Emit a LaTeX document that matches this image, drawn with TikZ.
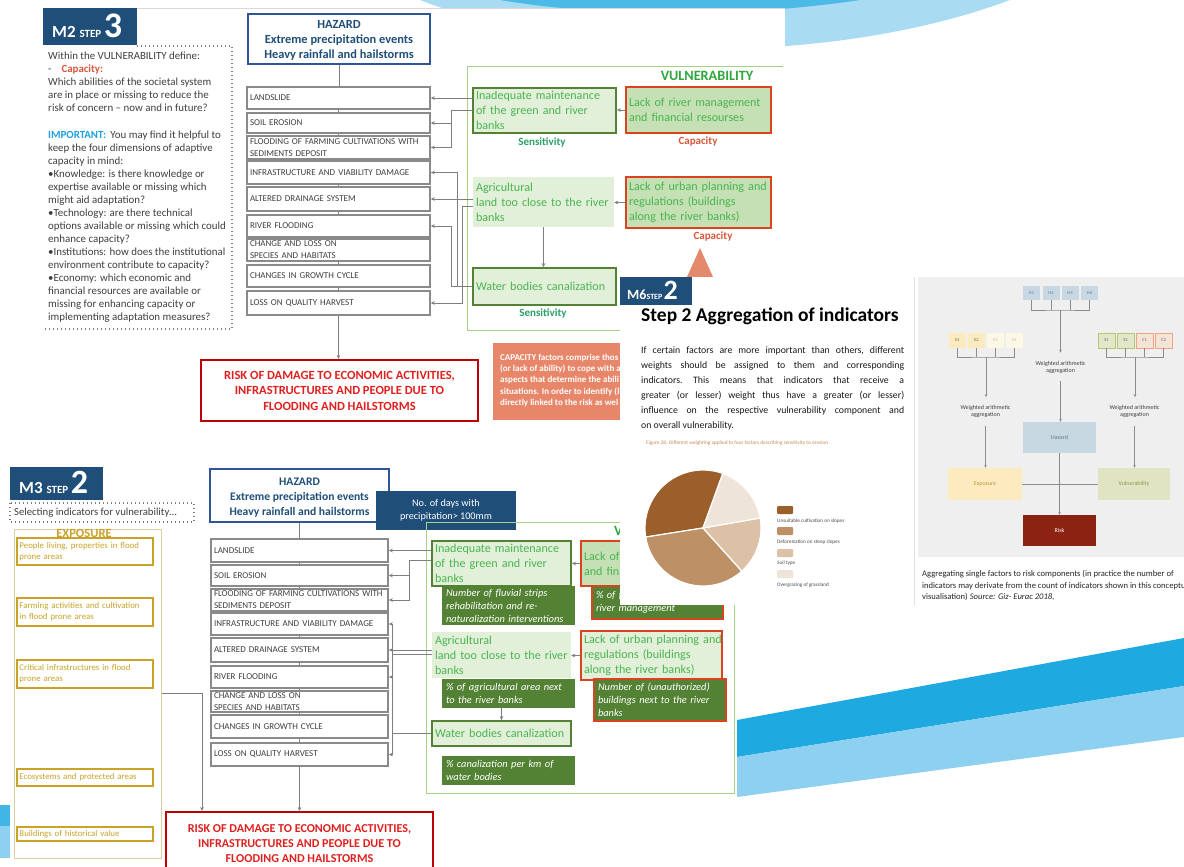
\documentclass[tikz,border=0pt]{standalone}
\usepackage{fontspec}
\setmainfont{Carlito}
\usetikzlibrary{arrows.meta,calc}
\definecolor{navy}{HTML}{1F4E79}
\definecolor{hazblue}{HTML}{2F5597}
\definecolor{boxgray}{HTML}{8A8A8A}
\definecolor{txtgray}{HTML}{3F3F3F}
\definecolor{arrgray}{HTML}{7F7F7F}
\definecolor{gtext}{HTML}{4AB452}
\definecolor{vgreen}{HTML}{2EA83C}
\definecolor{sgreen}{HTML}{2A9F66}
\definecolor{dgreen}{HTML}{548235}
\definecolor{lfill}{HTML}{E2F0D9}
\definecolor{cfill}{HTML}{C5E0B4}
\definecolor{capred}{HTML}{D9441F}
\definecolor{capt}{HTML}{D9563A}
\definecolor{contg}{HTML}{A9D18E}
\definecolor{riskred}{HTML}{C00000}
\definecolor{risktxt}{HTML}{E0201E}
\definecolor{salmon}{HTML}{E8866A}
\definecolor{tri}{HTML}{E38A6D}
\definecolor{gold}{HTML}{C9A227}
\definecolor{goldline}{HTML}{DCCDA5}
\definecolor{impblue}{HTML}{1DA1E2}
\definecolor{skyd}{HTML}{1FA9E1}
\definecolor{skyl}{HTML}{A9DBF3}
\definecolor{skym}{HTML}{8DD0F0}
\definecolor{panelg}{HTML}{EFEFEF}
\definecolor{hbox}{HTML}{C8D8E2}
\definecolor{hboxt}{HTML}{5A7A90}
\definecolor{ebox}{HTML}{FBEBBE}
\definecolor{eboxf}{HTML}{FDF7E6}
\definecolor{vbox}{HTML}{E1E4C3}
\definecolor{sbord}{HTML}{B4C878}
\definecolor{cbord}{HTML}{EFA585}
\definecolor{cfill2}{HTML}{F3E4D6}
\definecolor{sfill}{HTML}{E3E7C8}
\definecolor{riskd}{HTML}{8B2212}
\definecolor{pie1}{HTML}{9C5E2B}
\definecolor{pie2}{HTML}{BD9065}
\definecolor{pie3}{HTML}{DCC1A7}
\definecolor{pie4}{HTML}{EEE4D9}
\definecolor{figcap}{HTML}{C58A55}
\definecolor{pline}{HTML}{8C8C8C}
\definecolor{expt}{HTML}{B89A3A}
\definecolor{vult}{HTML}{8A9A4A}
\newcommand{\fsz}[2]{\fontsize{#1}{#2}\selectfont}
\tikzset{
 lbox/.style={draw=boxgray, line width=1.6pt, fill=white, inner xsep=3pt, inner ysep=0pt, align=left, text=txtgray, font=\fsz{9}{12}},
 hazbox/.style={draw=hazblue, line width=2pt, fill=white, text=navy, align=center, inner sep=0pt, font=\bfseries\fsz{12.4}{15}},
 sensbox/.style={draw=dgreen, line width=1.8pt, fill=lfill, text=gtext, align=left, inner xsep=3pt, inner ysep=0pt, font=\fsz{12.1}{15}},
 capbox/.style={draw=capred, line width=1.6pt, fill=cfill, text=gtext, align=left, inner xsep=3pt, inner ysep=0pt, font=\fsz{12.1}{15}},
 agribox/.style={fill=lfill, text=gtext, align=left, inner xsep=3pt, inner ysep=0pt, font=\fsz{12.1}{15}},
 indbox/.style={fill=dgreen, text=white, align=left, inner xsep=4pt, inner ysep=0pt, font=\itshape\fsz{10.4}{13}},
 lab/.style={inner sep=0pt, font=\bfseries\fsz{11}{12}},
 riskbox/.style={draw=riskred, line width=2pt, fill=white, text=risktxt, align=center, inner sep=0pt, font=\bfseries\fsz{12.5}{15.5}},
 expbox/.style={draw=gold, line width=1.6pt, fill=white, text=gold, align=left, inner xsep=2.5pt, inner ysep=0pt, font=\fsz{8.8}{11}},
 arr/.style={draw=arrgray, line width=0.9pt, -{Stealth[length=4pt,width=3.6pt]}},
 conn/.style={draw=arrgray, line width=0.9pt},
 dotline/.style={draw=gray, line width=1.5pt, dash pattern=on 1.4pt off 2.6pt},
 pbox/.style={inner sep=0pt, minimum width=17, minimum height=15, font=\fsz{4.5}{5}},
 wt/.style={inner xsep=0pt, inner ysep=8pt, align=center, font=\fsz{6}{7}, text=black!75},
 parr/.style={draw=pline, line width=0.6pt, -{Stealth[length=3pt,width=2.6pt]}},
 pcon/.style={draw=pline, line width=0.6pt},
 leg/.style={minimum width=16, minimum height=8, rounded corners=1pt, inner sep=0pt},
 legt/.style={anchor=west, inner sep=0pt, font=\fsz{5.2}{6}, text=black!70},
}
\begin{document}
\begin{tikzpicture}[x=1pt,y=-1pt]
\useasboundingbox (0,0) rectangle (1184,867);
\fill[white] (0,0) rectangle (1184,867);
% ---- background swooshes
\fill[skyl] (420,0) .. controls (600,70) and (850,60) .. (1010,0) -- cycle;
\fill[skyd!80] (500,0) .. controls (620,20) and (760,15) .. (860,0) -- cycle;
\fill[skyd] (737,720) -- (1184,638) -- (1184,686) -- (737,757) -- cycle;
\fill[skym] (737,757) -- (1184,686) -- (1184,737) -- (737,797) -- cycle;
\fill[skyd!85] (0,805) rectangle (12,826);
\fill[skym] (0,826) rectangle (12,858);

% ================= TOP SLIDE =================
\fill[white] (40,8) rectangle (785,455);
\draw[black!15, line width=0.6pt] (137,8) -- (785,8);
\fill[navy] (43,8) rectangle (137,45);
\node[anchor=base west, inner sep=0pt, text=white, font=\bfseries] (m2ban) at (52,38) {\fsz{17}{17}M2 \fsz{11}{11}STEP \fsz{36}{36}3};
\draw[dotline] (137,46) -- (232,46) -- (232,329) -- (43,329);
\node[anchor=north west, inner sep=0pt, align=left, text=txtgray, font=\fsz{10.9}{13.05}] (m2txt) at (48,52) {Within the VULNERABILITY define:\\
-\hspace{10pt}{\color{capt}\bfseries Capacity:}\\
Which abilities of the societal system\\
are in place or missing to reduce the\\
risk of concern – now and in future?\\[13.05pt]
{\color{impblue}\bfseries IMPORTANT:}\, You may find it helpful to\\
keep the four dimensions of adaptive\\
capacity in mind:\\
•Knowledge: is there knowledge or\\
expertise available or missing which\\
might aid adaptation?\\
•Technology: are there technical\\
options available or missing which could\\
enhance capacity?\\
•Institutions: how does the institutional\\
environment contribute to capacity?\\
•Economy: which economic and\\
financial resources are available or\\
missing for enhancing capacity or\\
implementing adaptation measures?};

\node[hazbox, minimum width=182, minimum height=50] (thaz) at (339,39) {\rule{0pt}{11pt}HAZARD\\Extreme precipitation events\\Heavy rainfall and hailstorms};
\begin{scope}[every node/.style={lbox, minimum width=183, text width=177}]
\node[minimum height=22] (t1) at (338.5,98) {LANDSLIDE};
\node[minimum height=20] (t2) at (338.5,123) {SOIL EROSION};
\node[minimum height=23] (t3) at (338.5,147.5) {FLOODING OF FARMING CULTIVATIONS WITH\\SEDIMENTS DEPOSIT};
\node[minimum height=23] (t4) at (338.5,172.5) {INFRASTRUCTURE AND VIABILITY DAMAGE};
\node[minimum height=24] (t5) at (338.5,199) {ALTERED DRAINAGE SYSTEM};
\node[minimum height=22] (t6) at (338.5,226) {RIVER FLOODING};
\node[minimum height=22] (t7) at (338.5,250) {CHANGE AND LOSS ON\\SPECIES AND HABITATS};
\node[minimum height=22] (t8) at (338.5,276) {CHANGES IN GROWTH CYCLE};
\node[minimum height=24] (t9) at (338.5,303) {LOSS ON QUALITY HARVEST};
\end{scope}
\draw[conn] (thaz.south) -- (thaz.south |- t1.north);
\foreach \a/\b in {t1/t2,t2/t3,t3/t4,t4/t5,t5/t6,t6/t7,t7/t8,t8/t9} \draw[conn] (\a.south) -- (\b.north);

% vulnerability container (top)
\draw[contg, line width=1pt] (783,67) -- (467,67) -- (467,330) -- (640,330);
\node[anchor=base, inner sep=0pt, text=vgreen, font=\bfseries\fsz{14.2}{15}] (tvul) at (707,81) {VULNERABILITY};
\node[sensbox, minimum width=143, text width=137, minimum height=45] (inad) at (544.5,110.5) {Inadequate maintenance\\of the green and river\\banks};
\node[capbox, minimum width=145, text width=139, minimum height=46] (lackr) at (698.5,110) {\mbox{Lack of river management}\\and financial resourses};
\node[agribox, minimum width=141, text width=135, minimum height=50] (agri) at (543.5,202) {Agricultural\\\mbox{land too close to the river}\\banks};
\node[capbox, minimum width=145, text width=139, minimum height=51] (lacku) at (698.5,202.5) {\mbox{Lack of urban planning and}\\regulations (buildings\\along the river banks)};
\node[sensbox, minimum width=143, text width=137, minimum height=37] (water) at (544.5,286.5) {\mbox{Water bodies canalization}};
\node[lab, text=sgreen] (sl1) at (542,142) {Sensitivity};
\node[lab, text=capt] (cl1) at (698,142) {Capacity};
\node[lab, text=capt] (cl2) at (713,237) {Capacity};
\node[lab, text=sgreen] (sl2) at (543,313) {Sensitivity};
\draw[arr] (lackr.west) -- (lackr.west -| inad.east);
\draw[arr] (lacku.west) -- (lacku.west -| agri.east);
\draw[arr] (agri.south) -- (agri.south |- water.north);
% connectors to effects
\coordinate (j1) at (451,0);
\coordinate (j2) at (462,0);
\coordinate (j3) at (457,0);
\draw[arr] (inad.west |- t1.east) -- (t1.east);
\draw[arr] (inad.west) -- (inad.west -| j1) |- (t3.east);
\draw[arr] (t2.east -| j1) -- (t2.east);
\draw[arr] (agri.west |- t5.east) -- (t5.east);
\coordinate (a2) at ($(agri.west)+(0,4)$);
\draw[arr] (a2) -- (a2 -| j2) |- (t9.east);
\draw[arr] (water.west) -- (water.west -| j3) |- (t4.east);
\draw[arr] (water.west -| j3) -- (water.west -| j1) |- (t6.east);

% risk (top)
\node[riskbox, minimum width=277, minimum height=61] (trisk) at (339.5,390.5) {RISK OF DAMAGE TO ECONOMIC ACTIVITIES,\\INFRASTRUCTURES AND PEOPLE DUE TO\\FLOODING AND HAILSTORMS};
\draw[arr] (t9.south) -- (t9.south |- trisk.north);

% salmon note
\begin{scope}
\clip (493,343) rectangle (620,420);
\fill[salmon] (493,343) rectangle (620,420);
\node[anchor=north west, inner sep=0pt, align=left, text=white, font=\bfseries\fsz{9}{11.2}] (saltxt) at (500,354) {CAPACITY factors comprise thos\\(or lack of ability) to cope with a\\aspects that determine the abili\\situations. In order to identify (l\\directly linked to the risk as wel};
\end{scope}
\fill[tri] (700,248) -- (713,277) -- (687,277) -- cycle;

% ================= BOTTOM SLIDE =================
\fill[white] (10,462) rectangle (737,867);
\fill[navy] (10,467) rectangle (103,500);
\node[anchor=base west, inner sep=0pt, text=white, font=\bfseries] (m3ban) at (19,493) {\fsz{17}{17}M3 \fsz{11}{11}STEP \fsz{34}{34}2};
\draw[dotline] (10,503) rectangle (194,522);
\node[anchor=west, inner sep=0pt, text=txtgray, font=\fsz{10.7}{11}] (seltxt) at (14,513) {Selecting indicators for vulnerability…};

\node[draw=goldline, line width=1pt, minimum width=147, minimum height=329, inner sep=0pt] (expo) at (87.5,693.5) {};
\node[inner sep=0pt, text=gold, font=\bfseries\fsz{12.5}{13}] (expl) at (84,533) {EXPOSURE};
\begin{scope}[every node/.style={expbox, minimum width=136, text width=131}]
\node[minimum height=27] (e1) at (85,551.5) {People living, properties in flood\\prone areas};
\node[minimum height=28] (e2) at (85,612) {Farming activities and cultivation\\in flood prone areas};
\node[minimum height=28] (e3) at (85,674) {Critical infrastructures in flood\\prone areas};
\node[minimum height=17] (e4) at (85,777.5) {Ecosystems and protected areas};
\node[minimum height=14] (e5) at (85,834) {Buildings of historical value};
\end{scope}

\node[hazbox, font=\bfseries\fsz{11.6}{15}, minimum width=179, minimum height=53] (bhaz) at (299.5,495.5) {\rule{0pt}{11pt}HAZARD\\Extreme precipitation events\\Heavy rainfall and hailstorms};
\begin{scope}[every node/.style={lbox, minimum width=177, text width=171}]
\node[minimum height=23] (b1) at (299.5,550.5) {LANDSLIDE};
\node[minimum height=21] (b2) at (299.5,575.5) {SOIL EROSION};
\node[minimum height=22] (b3) at (299.5,600) {FLOODING OF FARMING CULTIVATIONS WITH\\SEDIMENTS DEPOSIT};
\node[minimum height=22] (b4) at (299.5,624) {INFRASTRUCTURE AND VIABILITY DAMAGE};
\node[minimum height=24] (b5) at (299.5,650) {ALTERED DRAINAGE SYSTEM};
\node[minimum height=22] (b6) at (299.5,677) {RIVER FLOODING};
\node[minimum height=21] (b7) at (299.5,701.5) {CHANGE AND LOSS ON\\SPECIES AND HABITATS};
\node[minimum height=23] (b8) at (299.5,726.5) {CHANGES IN GROWTH CYCLE};
\node[minimum height=23] (b9) at (299.5,754.5) {LOSS ON QUALITY HARVEST};
\end{scope}
\draw[conn] (bhaz.south) -- (bhaz.south |- b1.north);
\foreach \a/\b in {b1/b2,b2/b3,b3/b4,b4/b5,b5/b6,b6/b7,b7/b8,b8/b9} \draw[conn] (\a.south) -- (\b.north);
\node[fill=navy, text=white, align=center, inner sep=0pt, minimum width=140, minimum height=39, font=\fsz{10.2}{13}] (ndays) at (446,510.5) {No. of days with\\precipitation> 100mm};

% vulnerability container (bottom)
\draw[contg, line width=1pt] (426,522) rectangle (734,793);
\node[anchor=base west, inner sep=0pt, text=vgreen, font=\bfseries\fsz{14.2}{15}] (bvul) at (614,535) {VULNERABILITY};
\begin{scope}[every node/.append style={font=\fsz{11.8}{14.5}}]
\node[sensbox, minimum width=139, text width=133, minimum height=45] (binad) at (501.5,563.5) {Inadequate maintenance\\of the green and river\\banks};
\node[capbox, minimum width=145, text width=139, minimum height=45] (blackr) at (653.5,563.5) {\mbox{Lack of river management}\\and financial resourses};
\node[agribox, minimum width=139, text width=133, minimum height=46] (bagri) at (501.5,655) {Agricultural\\\mbox{land too close to the river}\\banks};
\node[capbox, fill=lfill, minimum width=141, text width=135, minimum height=49] (blacku) at (651.5,655.5) {\mbox{Lack of urban planning and}\\regulations (buildings\\\mbox{along the river banks)}};
\node[sensbox, minimum width=139, text width=133, minimum height=25] (bwater) at (501.5,733.5) {\mbox{Water bodies canalization}};
\end{scope}
\node[indbox, minimum width=133, text width=125, minimum height=39] (bind1) at (508.5,605.5) {Number of fluvial strips\\rehabilitation and re-\\\mbox{naturalization interventions}};
\node[indbox, draw=capred, line width=1.4pt, minimum width=131, text width=123, minimum height=33] (bind2) at (657.5,602.5) {\% of f\\river management};
\node[indbox, minimum width=133, text width=125, minimum height=29] (bind3) at (508.5,693.5) {\mbox{\% of agricultural area next}\\to the river banks};
\node[indbox, draw=capred, line width=1.4pt, minimum width=132, text width=124, minimum height=42] (bind4) at (660,700) {Number of (unauthorized)\\\mbox{buildings next to the river}\\banks};
\node[indbox, minimum width=133, text width=125, minimum height=29] (bind5) at (508.5,770.5) {\% canalization per km of\\water bodies};
\draw[arr] (blackr.west) -- (blackr.west -| binad.east);
\draw[arr] (blacku.west) -- (blacku.west -| bagri.east);
\draw[arr] (bind3.south -| bwater.north) -- (bwater.north);
\coordinate (k1) at (409,0);
\coordinate (k2) at (392,0);
\draw[arr] (binad.west |- b1.east) -- (b1.east);
\coordinate (bi2) at ($(binad.west)+(0,-3)$);
\draw[arr] (bi2) -- (bi2 -| k1) |- (b3.east);
\draw[arr] (b2.east -| k1) -- (b2.east);
\draw[arr] (bagri.west |- b5.east) -- (b5.east);
\coordinate (ba2) at ($(bagri.west |- b5.east)+(0,4)$);
\draw[arr] (ba2) -- (ba2 -| k2) |- (b9.east);
\draw[arr] (bwater.west) -- (bwater.west -| k2) |- (b4.east);
\draw[arr] (bwater.west -| k2) |- (b6.east);

% risk (bottom)
\node[riskbox, font=\bfseries\fsz{12.1}{15}, minimum width=267, minimum height=63] (brisk) at (299.5,843.5) {RISK OF DAMAGE TO ECONOMIC ACTIVITIES,\\INFRASTRUCTURES AND PEOPLE DUE TO\\FLOODING AND HAILSTORMS};
\draw[arr] (b9.south) -- (b9.south |- brisk.north);
\coordinate (rbx) at ($(brisk.north west)+(37,0)$);
\draw[arr] (expo.east) -| (rbx);

% ================= M6 SLIDE =================
\fill[white] (620,277) rectangle (914,605);
\draw[black!12, line width=1pt] (914.5,277) -- (914.5,605);
\fill[navy] (620,277) rectangle (692,305);
\node[anchor=base west, inner sep=0pt, text=white, font=\bfseries] (m6ban) at (627,299) {\fsz{14}{14}M6\fsz{8}{8}STEP\,\fsz{28}{28}2};
\node[anchor=base west, inner sep=0pt, font=\bfseries\fsz{19.5}{20}] (m6tit) at (641,321) {Step 2 Aggregation of indicators};
\node[anchor=north west, inner sep=0pt, text width=263, align=justify, font=\fsz{9.8}{15}, text=black!90] (m6par) at (641,343) {\frenchspacing\strut If certain factors are more important than others, different\linebreak weights should be assigned to them and corresponding\linebreak indicators. This means that indicators that receive a\linebreak greater (or lesser) weight thus have a greater (or lesser)\linebreak influence on the respective vulnerability component and\linebreak on overall vulnerability.};
\node[anchor=west, inner sep=0pt, font=\fsz{5.3}{6}, text=figcap] (figc) at (646,443) {Figure 28: Different weighting applied to four factors describing sensitivity to erosion};
\coordinate (pc) at (703,528);
\begin{scope}[draw=white, line width=1.2pt]
\filldraw[fill=pie1] (pc) -- ++(171:58) arc[start angle=171, end angle=290, radius=58] -- cycle;
\filldraw[fill=pie2] (pc) -- ++(48:58) arc[start angle=48, end angle=171, radius=58] -- cycle;
\filldraw[fill=pie3] (pc) -- ++(-10:58) arc[start angle=-10, end angle=48, radius=58] -- cycle;
\filldraw[fill=pie4] (pc) -- ++(290:58) arc[start angle=290, end angle=350, radius=58] -- cycle;
\end{scope}
\node[leg, fill=pie1] (lg1) at (785,510) {};
\node[leg, fill=pie2] (lg2) at (785,531) {};
\node[leg, fill=pie3] (lg3) at (785,553) {};
\node[leg, fill=pie4] (lg4) at (785,574) {};
\node[legt] (lt1) at (777,521) {Unsuitable cultivation on slopes};
\node[legt] (lt2) at (777,542) {Deforestation on steep slopes};
\node[legt] (lt3) at (777,563) {Soil type};
\node[legt] (lt4) at (777,585) {Overgrazing of grassland};

% ================= RIGHT PANEL =================
\fill[panelg] (918,277) rectangle (1184,557);
\node[pbox, fill=hbox, text=hboxt, minimum height=14] (h1) at (1031.5,293) {H1};
\node[pbox, fill=hbox, text=hboxt, minimum height=14] (h2) at (1051,293) {H2};
\node[pbox, fill=hbox, text=hboxt, minimum height=14] (h3) at (1070,293) {H3};
\node[pbox, fill=hbox, text=hboxt, minimum height=14] (h4) at (1089.5,293) {H4};
\node[pbox, fill=ebox, text=black!60] (e1b) at (957.5,340.5) {E1};
\node[pbox, fill=ebox, text=black!60] (e2b) at (976.5,340.5) {E2};
\node[pbox, fill=eboxf, text=black!25] (e3b) at (995.5,340.5) {E3};
\node[pbox, fill=eboxf, text=black!25] (e4b) at (1014.5,340.5) {E4};
\node[pbox, fill=sfill, draw=sbord, line width=0.6pt, text=black!60] (s1b) at (1106.5,340.5) {S1};
\node[pbox, fill=sfill, draw=sbord, line width=0.6pt, text=black!60] (s2b) at (1125.5,340.5) {S2};
\node[pbox, fill=cfill2, draw=cbord, line width=0.6pt, text=black!60] (c1b) at (1144.5,340.5) {C1};
\node[pbox, fill=cfill2, draw=cbord, line width=0.6pt, text=black!60] (c2b) at (1163.5,340.5) {C2};
\coordinate (hbar) at (1060.5,310);
\coordinate (ebar) at (986,357);
\coordinate (sbar) at (1135,357);
\draw[pcon] (h1.south) |- (hbar) -| (h4.south);
\draw[pcon] (h2.south) -- (h2.south |- hbar);
\draw[pcon] (h3.south) -- (h3.south |- hbar);
\draw[pcon] (e1b.south) |- (ebar) -| (e4b.south);
\draw[pcon] (e2b.south) -- (e2b.south |- ebar);
\draw[pcon] (e3b.south) -- (e3b.south |- ebar);
\draw[pcon] (s1b.south) |- (sbar) -| (c2b.south);
\draw[pcon] (s2b.south) -- (s2b.south |- sbar);
\draw[pcon] (c1b.south) -- (c1b.south |- sbar);
\node[wt] (wh) at (1060.5,367) {Weighted arithmetic\\aggregation};
\node[wt] (we) at (985.5,411.5) {Weighted arithmetic\\aggregation};
\node[wt] (wv) at (1134.5,411.5) {Weighted arithmetic\\aggregation};
\node[fill=hbox, text=hboxt, inner sep=0pt, minimum width=73, minimum height=31, font=\fsz{6}{7}] (hzb) at (1059.5,437.5) {Hazard};
\node[fill=ebox, text=expt, inner sep=0pt, minimum width=74, minimum height=32, font=\fsz{6}{7}] (exb) at (985,484) {Exposure};
\node[fill=vbox, text=vult, inner sep=0pt, minimum width=72, minimum height=32, font=\fsz{6}{7}] (vub) at (1134,484) {Vulnerability};
\node[fill=riskd, text=white, inner sep=0pt, minimum width=73, minimum height=31, font=\fsz{6}{7}] (rkb) at (1059.5,530.5) {Risk};
\draw[parr] (hbar) -- (wh.north);
\draw[parr] (wh.south) -- (wh.south |- hzb.north);
\draw[parr] (ebar) -- (ebar |- we.north);
\draw[parr] (we.south) -- (we.south |- exb.north);
\draw[parr] (sbar) -- (sbar |- wv.north);
\draw[parr] (wv.south) -- (wv.south |- vub.north);
\draw[pcon] (exb.east) -- (vub.west);
\draw[parr] (hzb.south) -- (hzb.south |- rkb.north);
\node[anchor=north west, inner sep=0pt, align=left, font=\fsz{8.6}{11.6}, text=black!85] (rcap) at (922,570) {Aggregating single factors to risk components (in practice the number of\\indicators may derivate from the count of indicators shown in this conceptual\\visualisation) \textit{Source: Giz- Eurac 2018,}};
\end{tikzpicture}
\end{document}
